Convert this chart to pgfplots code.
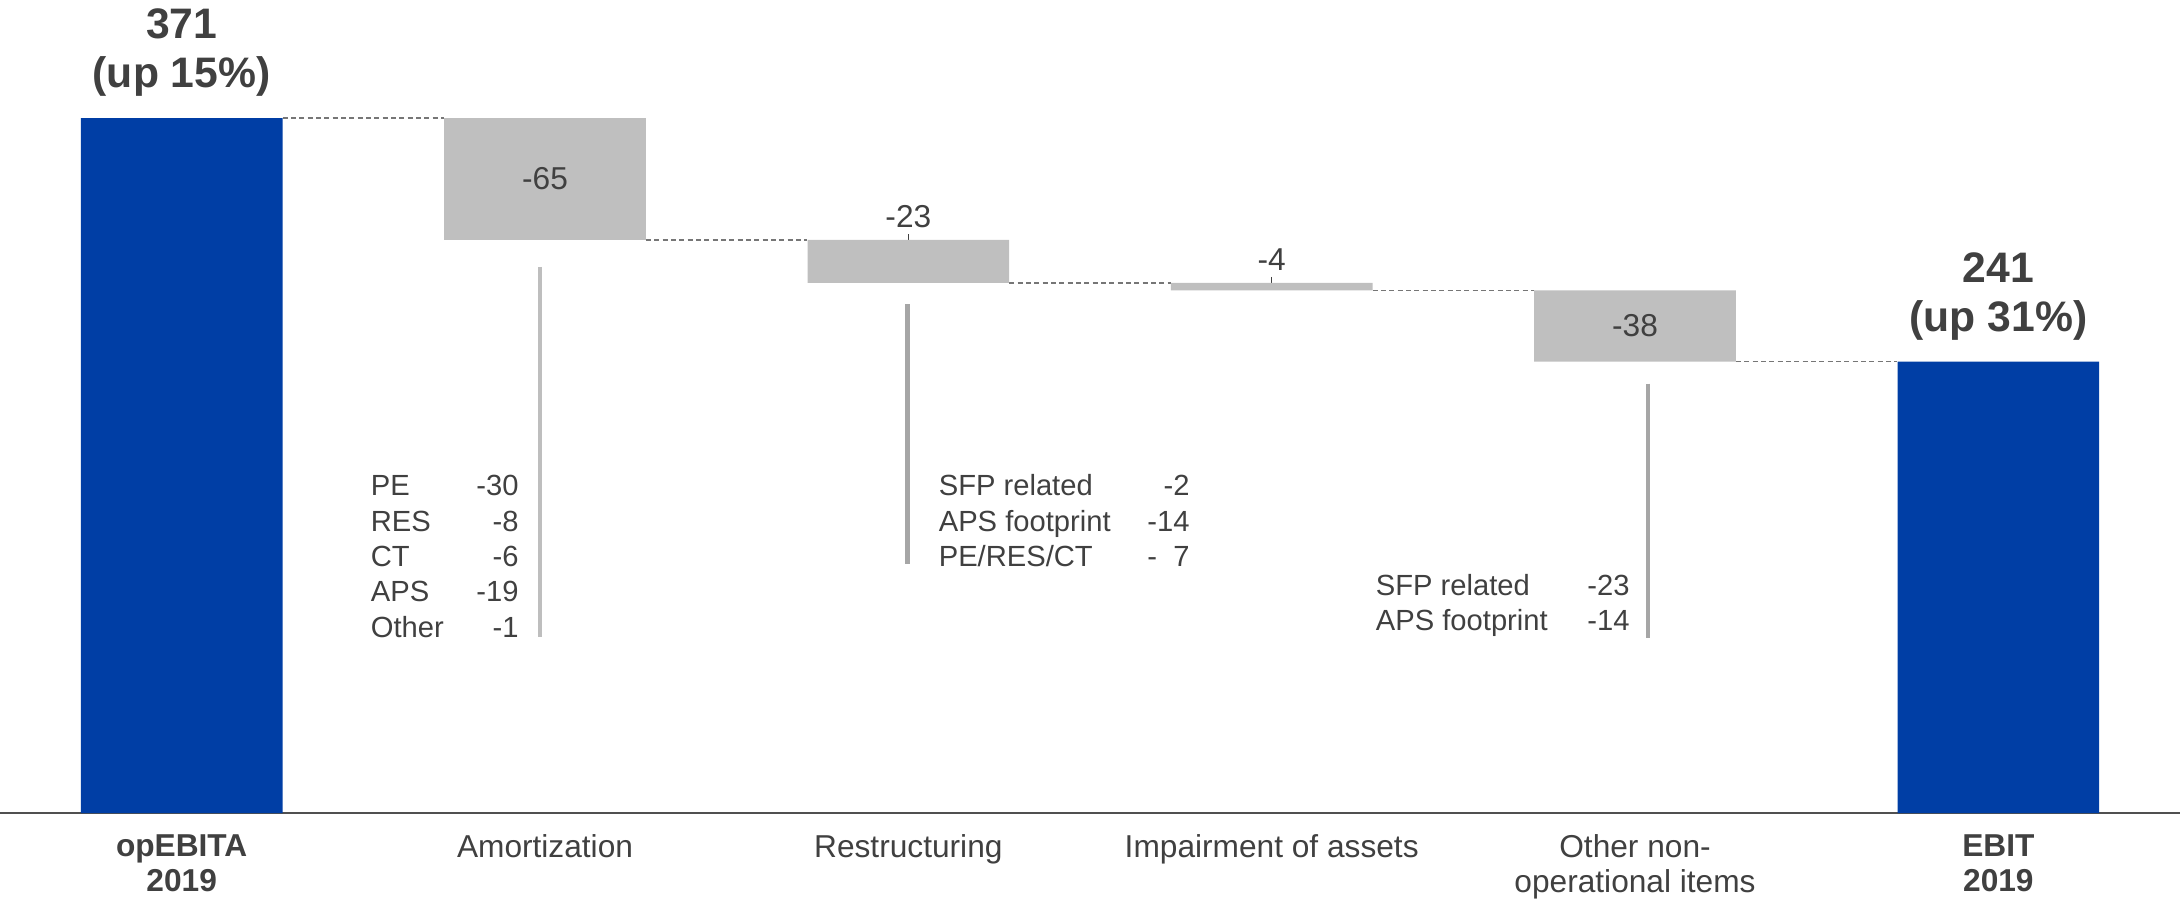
\documentclass[border=0pt]{standalone}
\usepackage{pgfplots}
\pgfplotsset{compat=1.18}
\usepackage{pgfplotstable}
\usepackage{fontspec}
\setmainfont{Liberation Sans}
\definecolor{ablue}{RGB}{0,62,165}
\definecolor{agray}{RGB}{191,191,191}
\definecolor{txt}{RGB}{64,64,64}
\definecolor{conn}{RGB}{118,118,118}
\definecolor{axiscol}{RGB}{80,80,80}
\definecolor{vlineA}{RGB}{190,190,190}
\definecolor{vlineB}{RGB}{166,166,166}

\tikzset{
  anno/.style={font=\fontsize{8.75}{10}\selectfont, text=txt, inner sep=0pt},
  val/.style={font=\fontsize{9.5}{11}\selectfont, text=txt, inner sep=0pt},
  hdr/.style={font=\bfseries\fontsize{12.8}{14.8}\selectfont, text=txt, inner sep=0pt, align=center, anchor=south, yshift=6.2pt},
}

\pgfplotstableread{
x base blue gray
0 0 371 0
1 306 0 65
2 283 0 23
3 279 0 4
4 241 0 38
5 0 241 0
}\wf

\begin{document}
\begin{tikzpicture}
\begin{axis}[
  scale only axis, width=654pt, height=243.9pt,
  xmin=-0.5, xmax=5.5, ymin=0, ymax=434,
  ybar stacked, bar width=60.5pt,
  axis y line=none, axis x line=bottom,
  x axis line style={-, draw=axiscol, line width=0.7pt},
  ytick=\empty,
  xtick={0,1,2,3,4,5}, major tick length=0pt,
  xticklabels={\textbf{opEBITA}\\\textbf{2019}, Amortization, Restructuring, Impairment of assets, Other non-\\operational items, \textbf{EBIT}\\\textbf{2019}},
  xticklabel style={align=center, font=\fontsize{9.5}{10.5}\selectfont, text=txt, inner sep=0pt, anchor=north, yshift=-6.3pt},
  clip=false,
]
\addplot[draw=none, fill=none] table[x=x, y=base]{\wf};
\addplot[draw=none, fill=ablue] table[x=x, y=blue]{\wf};
\addplot[draw=none, fill=agray] table[x=x, y=gray]{\wf};

% connectors
\addplot[stack plots=false, sharp plot, conn, line width=0.5pt, dash pattern=on 1.5pt off 1pt] coordinates {(0.278,371) (0.722,371)};
\addplot[stack plots=false, sharp plot, conn, line width=0.5pt, dash pattern=on 1.5pt off 1pt] coordinates {(1.278,306) (1.722,306)};
\addplot[stack plots=false, sharp plot, conn, line width=0.5pt, dash pattern=on 1.5pt off 1pt] coordinates {(2.278,283) (2.722,283)};
\addplot[stack plots=false, sharp plot, conn, line width=0.5pt, dash pattern=on 1.5pt off 1pt] coordinates {(3.278,279) (3.722,279)};
\addplot[stack plots=false, sharp plot, conn, line width=0.5pt, dash pattern=on 1.5pt off 1pt] coordinates {(4.278,241) (4.722,241)};

% leader ticks
\addplot[stack plots=false, sharp plot, txt, line width=0.4pt] coordinates {(2,309) (2,298)};
\addplot[stack plots=false, sharp plot, txt, line width=0.4pt] coordinates {(3,286.2) (3,281.4)};

% annotation lines
\addplot[stack plots=false, sharp plot, vlineA, line width=1.3pt] coordinates {(0.987,291.5) (0.987,94.2)};
\addplot[stack plots=false, sharp plot, vlineB, line width=1.3pt] coordinates {(1.998,271.5) (1.998,133)};
\addplot[stack plots=false, sharp plot, vlineB, line width=1.3pt] coordinates {(4.036,229.2) (4.036,93.4)};

% anchor points for labels (drawn after the axis so they sit above the bars)
\coordinate (v1) at (axis cs:1,338.6);
\coordinate (v2) at (axis cs:2,318.5);
\coordinate (v3) at (axis cs:3,295.3);
\coordinate (v4) at (axis cs:4,260);
\coordinate (h0) at (axis cs:0,371);
\coordinate (h5) at (axis cs:5,241);

% Amortization breakdown
\node[anno, anchor=base west] at (axis cs:0.519,169.4) {PE};
\node[anno, anchor=base west] at (axis cs:0.519,150.1) {RES};
\node[anno, anchor=base west] at (axis cs:0.519,131.5) {CT};
\node[anno, anchor=base west] at (axis cs:0.519,113.0) {APS};
\node[anno, anchor=base west] at (axis cs:0.519,93.7) {Other};
\node[anno, anchor=base east] at (axis cs:0.929,169.4) {-30};
\node[anno, anchor=base east] at (axis cs:0.929,150.1) {-8};
\node[anno, anchor=base east] at (axis cs:0.929,131.5) {-6};
\node[anno, anchor=base east] at (axis cs:0.929,113.0) {-19};
\node[anno, anchor=base east] at (axis cs:0.929,93.7) {-1};

% Restructuring breakdown
\node[anno, anchor=base west] at (axis cs:2.082,169.4) {SFP related};
\node[anno, anchor=base west] at (axis cs:2.082,150.1) {APS footprint};
\node[anno, anchor=base west] at (axis cs:2.082,131.5) {PE/RES/CT};
\node[anno, anchor=base east] at (axis cs:2.776,169.4) {-2};
\node[anno, anchor=base east] at (axis cs:2.776,150.1) {-14};
\node[anno, anchor=base east] at (axis cs:2.776,131.5) {-\phantom{1}7};

% Other breakdown
\node[anno, anchor=base west] at (axis cs:3.285,116.0) {SFP related};
\node[anno, anchor=base west] at (axis cs:3.285,97.4) {APS footprint};
\node[anno, anchor=base east] at (axis cs:3.987,116.0) {-23};
\node[anno, anchor=base east] at (axis cs:3.987,97.4) {-14};
\end{axis}

\node[val] at (v1) {-65};
\node[val] at (v2) {-23};
\node[val] at (v3) {-4};
\node[val] at (v4) {-38};
\node[hdr] at (h0) {371\\(up 15\%)};
\node[hdr] at (h5) {241\\(up 31\%)};

\pgfresetboundingbox
\path (current axis.south west) ++(0,-26.4pt) rectangle (current axis.north east);
\end{tikzpicture}
\end{document}
